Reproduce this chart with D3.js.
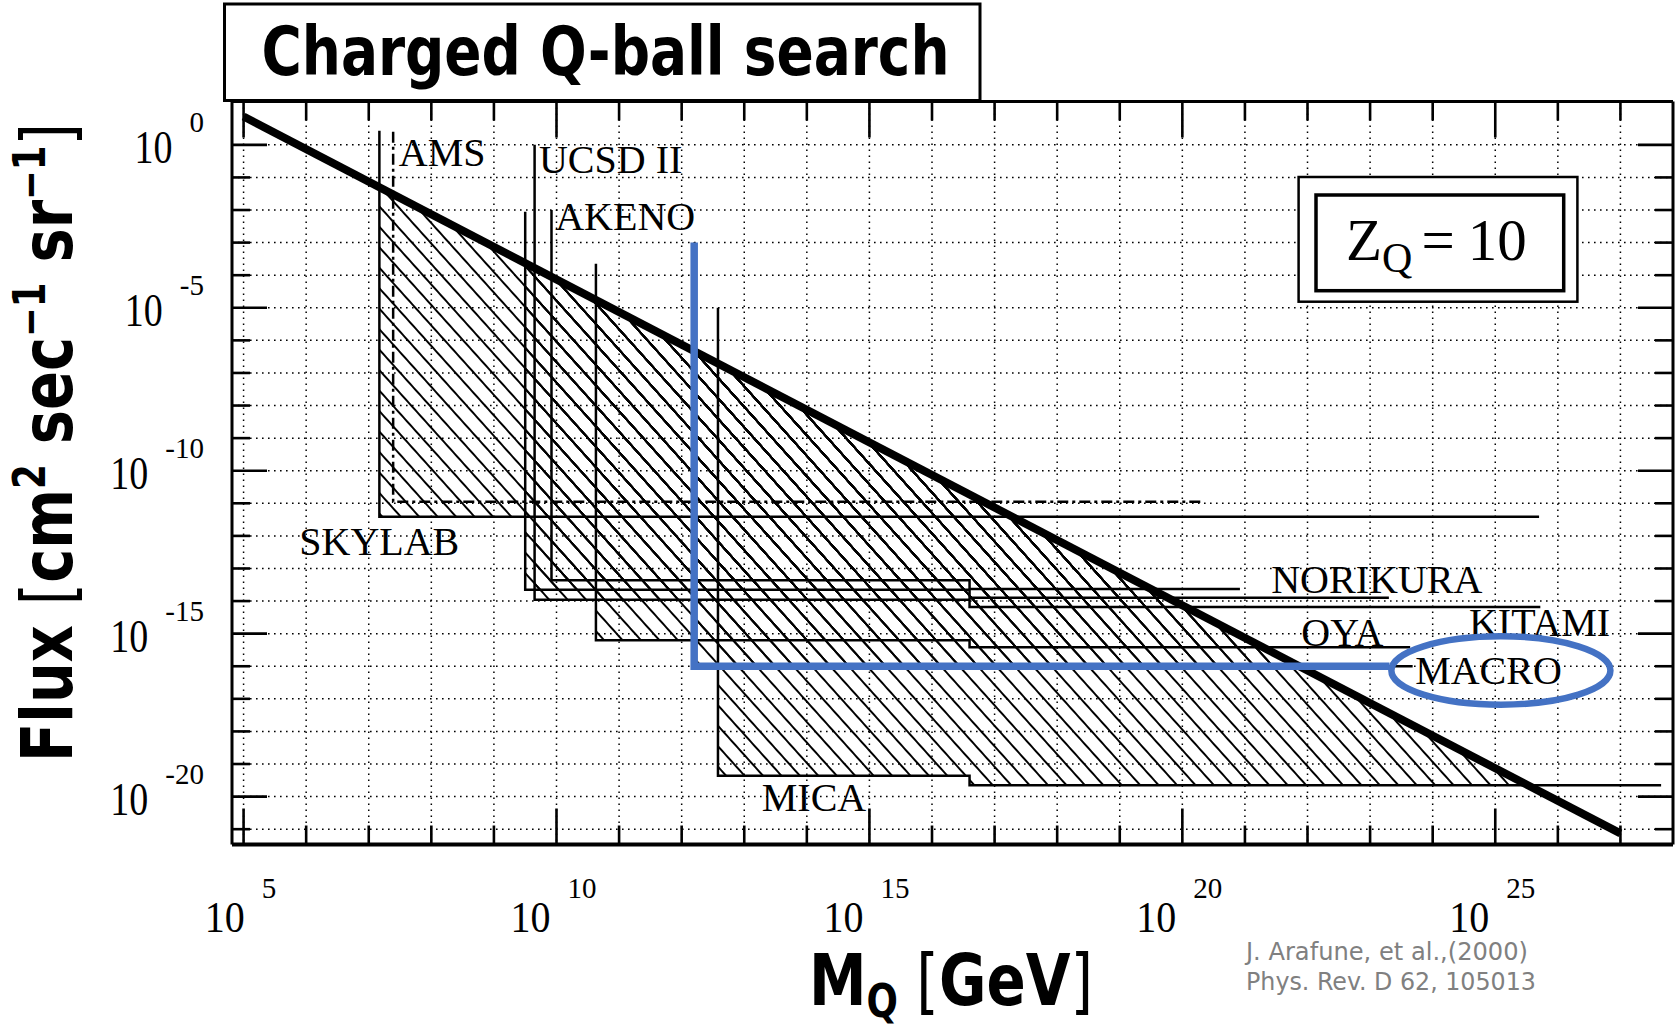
<!DOCTYPE html>
<html>
<head>
<meta charset="utf-8">
<script src="https://cdn.jsdelivr.net/npm/d3@7"></script>
<style>
  html, body { margin: 0; padding: 0; background: #fff; }
  svg { display: block; }
</style>
</head>
<body>
<svg id="chart" width="1676" height="1030"></svg>
<script>
// ---- axis ticks (exponents of ten) ----
const massTickExps  = d3.range(5, 28);          // 10^5 ... 10^27 GeV
const massLabelExps = [5, 10, 15, 20, 25];
const fluxTickExps  = d3.range(0, -22, -1);     // 10^0 ... 10^-21
const fluxLabelExps = [0, -5, -10, -15, -20];

// ---- dark-matter flux bound, log10 M vs log10 F ----
const boundMass = [5, 27];
const boundFlux = [0.87, -21.13];

// ---- experimental limits (log10 values) ----
const expNames    = ["SKYLAB", "AMS", "UCSD II", "AKENO", "NORIKURA", "OYA", "MACRO", "MICA"];
const expMassMin  = [7.17, 7.39, 9.65, 9.92, 9.50, 10.63, 12.20, 12.58];
const expMassMax  = [25.70, 20.32, 25.72, 20.92, 23.30, 23.64, 23.68, 27.65];
const expTopFlux  = [0.43, 0.40, 0.00, -2.00, -2.05, -3.65, -3.00, -5.00];
const expFluxLow  = [-11.41, -10.95, -13.96, -13.36, -13.65, -15.20, -16.00, -19.36]; // light Q-balls
const expFluxHigh = [-11.41, -10.95, -14.18, -13.63, -13.90, -15.42, -16.00, -19.65]; // heavy Q-balls
const stepMass = 16.6;                 // above this mass the ground limits drop
const projectedExps = ["AMS"];         // sensitivity only, not an exclusion

// ---- text labels ----
const labelText = ["AMS", "UCSD II", "AKENO", "SKYLAB", "NORIKURA", "OYA", "KITAMI", "MACRO", "MICA"];
const labelMass = [7.48, 9.72, 9.98, 5.89, 21.42, 21.90, 24.58, 23.72, 13.28];
const labelFlux = [-0.64, -0.87, -2.61, -12.58, -13.75, -15.39, -15.08, -16.56, -20.45];

// ---- highlighted MACRO reach ----
const macroPath = [[12.20, -3.00], [12.20, -16.00], [23.31, -16.00]];
const macroRing = { mass: 25.09, flux: -16.13, massHalf: 1.75, fluxHalf: 1.05 };

// ---------------------------------------------------------------
const P = { left: 232, right: 1673, top: 101.5, bottom: 844.5 };
const xs = d3.scaleLog().domain([10 ** 4.815, 10 ** 27.84]).range([P.left, P.right]);
const ys = d3.scaleLog().domain([10 ** 1.33, 10 ** -21.47]).range([P.top, P.bottom]);
const X = e => xs(10 ** e);
const Y = e => ys(10 ** e);

const serif = "'Liberation Serif', 'Times New Roman', 'DejaVu Serif', serif";
const narrow = "'Liberation Sans Narrow', 'DejaVu Sans Condensed', 'Liberation Sans', Arial, sans-serif";

const svg = d3.select("#chart");
svg.append("rect").attr("width", 1676).attr("height", 1030).attr("fill", "#fff");

const defs = svg.append("defs");
defs.append("clipPath").attr("id", "plotClip")
  .append("rect").attr("x", P.left).attr("y", P.top)
  .attr("width", P.right - P.left).attr("height", P.bottom - P.top);

const hatch = defs.append("pattern").attr("id", "hatch")
  .attr("patternUnits", "userSpaceOnUse")
  .attr("width", 13.7).attr("height", 13.7)
  .attr("patternTransform", "rotate(-42)");
hatch.append("line").attr("x1", 6.85).attr("y1", -1).attr("x2", 6.85).attr("y2", 15)
  .attr("stroke", "#000").attr("stroke-width", 2);

const line = d3.line().x(d => X(d[0])).y(d => Y(d[1]));

// ---- dotted grid ----
const grid = svg.append("g").attr("stroke", "#000").attr("stroke-width", 1.5)
  .attr("stroke-dasharray", "1.6,4.4").attr("fill", "none");
massTickExps.forEach(e => grid.append("line")
  .attr("x1", X(e)).attr("x2", X(e)).attr("y1", P.top).attr("y2", P.bottom));
fluxTickExps.forEach(e => grid.append("line")
  .attr("x1", P.left).attr("x2", P.right).attr("y1", Y(e)).attr("y2", Y(e)));

// ---- hatched exclusion regions ----
const boundAt = m => boundFlux[0] + (m - boundMass[0]) * (boundFlux[1] - boundFlux[0]) / (boundMass[1] - boundMass[0]);
const boundCross = f => boundMass[0] + (f - boundFlux[0]) * (boundMass[1] - boundMass[0]) / (boundFlux[1] - boundFlux[0]);

const exps = expNames.map((name, i) => ({
  name, m0: expMassMin[i], m1: expMassMax[i], top: expTopFlux[i],
  fLow: expFluxLow[i], fHigh: expFluxHigh[i]
}));

const hatchG = svg.append("g").attr("clip-path", "url(#plotClip)");
exps.filter(d => !projectedExps.includes(d.name)).forEach(d => {
  const pts = [[d.m0, d.fLow], [d.m0, boundAt(d.m0)]];
  const c1 = boundCross(d.fLow);
  if (d.fLow === d.fHigh || c1 <= stepMass) {
    pts.push([c1, d.fLow]);
  } else {
    pts.push([boundCross(d.fHigh), d.fHigh], [stepMass, d.fHigh], [stepMass, d.fLow]);
  }
  hatchG.append("path").attr("d", line(pts) + "Z").attr("fill", "url(#hatch)");
});

// ---- limit outlines ----
const limG = svg.append("g").attr("fill", "none").attr("stroke", "#000").attr("stroke-width", 2.5);
exps.forEach(d => {
  let pts;
  if (d.fLow === d.fHigh) {
    pts = [[d.m0, d.top], [d.m0, d.fLow], [d.m1, d.fLow]];
  } else {
    pts = [[d.m0, d.top], [d.m0, d.fLow], [stepMass, d.fLow], [stepMass, d.fHigh], [d.m1, d.fHigh]];
  }
  const p = limG.append("path").attr("d", line(pts));
  if (projectedExps.includes(d.name)) p.attr("stroke-dasharray", "11,4,3,4");
});

// ---- dark-matter bound ----
svg.append("path").attr("d", line(boundMass.map((m, i) => [m, boundFlux[i]])))
  .attr("fill", "none").attr("stroke", "#000").attr("stroke-width", 8);

// ---- frame and ticks ----
const frame = svg.append("g").attr("stroke", "#000").attr("fill", "none");
frame.append("line").attr("x1", P.left).attr("x2", P.right).attr("y1", P.bottom).attr("y2", P.bottom).attr("stroke-width", 4);
frame.append("line").attr("x1", P.left).attr("x2", P.right).attr("y1", P.top).attr("y2", P.top).attr("stroke-width", 3);
frame.append("line").attr("x1", P.left).attr("x2", P.left).attr("y1", P.top).attr("y2", P.bottom).attr("stroke-width", 3);
frame.append("line").attr("x1", P.right).attr("x2", P.right).attr("y1", P.top).attr("y2", P.bottom).attr("stroke-width", 3);
const tk = frame.append("g").attr("stroke-width", 2.6);
massTickExps.forEach(e => {
  const len = e % 5 === 0 ? 36 : 19;
  tk.append("line").attr("x1", X(e)).attr("x2", X(e)).attr("y1", P.bottom).attr("y2", P.bottom - len);
  tk.append("line").attr("x1", X(e)).attr("x2", X(e)).attr("y1", P.top).attr("y2", P.top + len);
});
fluxTickExps.forEach(e => {
  const len = e % 5 === 0 ? 35 : 18;
  tk.append("line").attr("y1", Y(e)).attr("y2", Y(e)).attr("x1", P.left).attr("x2", P.left + len);
  tk.append("line").attr("y1", Y(e)).attr("y2", Y(e)).attr("x1", P.right).attr("x2", P.right - len);
});

// ---- tick labels ----
massLabelExps.forEach(e => {
  const cx = X(e) - 3;
  const base = svg.append("text").text("10").attr("font-family", serif).attr("font-size", 45)
    .attr("textLength", 40).attr("lengthAdjust", "spacingAndGlyphs");
  const sup = svg.append("text").text(String(e)).attr("font-family", serif).attr("font-size", 29);
  const w = sup.node().getComputedTextLength();
  const x0 = cx - (40 + 17 + w) / 2;
  base.attr("x", x0).attr("y", 931.5);
  sup.attr("x", x0 + 57).attr("y", 898);
});
fluxLabelExps.forEach(e => {
  const ty = Y(e);
  const sup = svg.append("text").text(String(e)).attr("font-family", serif).attr("font-size", 29)
    .attr("text-anchor", "end").attr("x", 204).attr("y", ty - 12.5);
  const w = sup.node().getComputedTextLength();
  svg.append("text").text("10").attr("font-family", serif).attr("font-size", 47)
    .attr("textLength", 38).attr("lengthAdjust", "spacingAndGlyphs")
    .attr("x", 204 - w - 17 - 38).attr("y", ty + 18.5);
});

// ---- experiment names ----
labelText.forEach((t, i) => {
  svg.append("text").text(t).attr("font-family", serif).attr("font-size", 40)
    .attr("x", X(labelMass[i])).attr("y", Y(labelFlux[i])).attr("fill", "#000");
});

// ---- charge box ----
svg.append("rect").attr("x", 1298.6).attr("y", 177).attr("width", 278.8).attr("height", 124.7)
  .attr("fill", "#fff").attr("stroke", "#000").attr("stroke-width", 2.5);
svg.append("rect").attr("x", 1316).attr("y", 195).attr("width", 247.7).attr("height", 95.7)
  .attr("fill", "#fff").attr("stroke", "#000").attr("stroke-width", 3.5);
const zq = svg.append("text").attr("font-family", serif).attr("font-size", 59)
  .attr("x", 1346).attr("y", 260);
zq.append("tspan").text("Z");
zq.append("tspan").text("Q").attr("font-size", 42).attr("dy", 12);
zq.append("tspan").text("=").attr("dy", -12).attr("dx", 9);
zq.append("tspan").text("10").attr("dx", 13);

// ---- MACRO highlight ----
const blue = "#4472C4";
svg.append("path").attr("d", line(macroPath)).attr("fill", "none")
  .attr("stroke", blue).attr("stroke-width", 7.5);
svg.append("ellipse")
  .attr("cx", X(macroRing.mass)).attr("cy", Y(macroRing.flux))
  .attr("rx", X(macroRing.mass + macroRing.massHalf) - X(macroRing.mass))
  .attr("ry", Y(macroRing.flux - macroRing.fluxHalf) - Y(macroRing.flux))
  .attr("fill", "none").attr("stroke", blue).attr("stroke-width", 6.5);

// ---- title ----
svg.append("rect").attr("x", 224.5).attr("y", 4).attr("width", 755.5).attr("height", 96.5)
  .attr("fill", "#fff").attr("stroke", "#000").attr("stroke-width", 3);
svg.append("text").text("Charged Q-ball search")
  .attr("font-family", narrow).attr("font-weight", "bold").attr("font-size", 67)
  .attr("x", 261.5).attr("y", 75).attr("textLength", 688).attr("lengthAdjust", "spacingAndGlyphs");

// ---- axis titles (squeezed horizontally to a set width) ----
function fitWidth(sel, width, x, y, rotated) {
  const w = sel.node().getComputedTextLength();
  const sx = width / w;
  sel.attr("transform", `translate(${x},${y})${rotated ? " rotate(-90)" : ""} scale(${sx},1)`);
}

const yt = svg.append("text").attr("font-family", narrow).attr("font-weight", "bold")
  .attr("font-size", 71).attr("x", 0).attr("y", 0);
yt.append("tspan").text("Flux ");
yt.append("tspan").text("[").attr("font-weight", "normal");
yt.append("tspan").text("cm");
yt.append("tspan").text("2").attr("font-size", 44).attr("dy", -27);
yt.append("tspan").text(" sec").attr("dy", 27);
yt.append("tspan").text("\u22121").attr("font-size", 44).attr("dy", -27);
yt.append("tspan").text(" sr").attr("dy", 27);
yt.append("tspan").text("\u22121").attr("font-size", 44).attr("dy", -27);
yt.append("tspan").text("]").attr("font-weight", "normal").attr("dy", 27);
fitWidth(yt, 639, 72, 762, true);

const xt = svg.append("text").attr("font-family", narrow).attr("font-weight", "bold")
  .attr("font-size", 72).attr("x", 0).attr("y", 0);
xt.append("tspan").text("M");
xt.append("tspan").text("Q").attr("font-size", 46).attr("dy", 12);
xt.append("tspan").text(" [").attr("font-weight", "normal").attr("dy", -12);
xt.append("tspan").text("GeV");
xt.append("tspan").text("]").attr("font-weight", "normal");
fitWidth(xt, 284, 809, 1005, false);

// ---- reference ----
svg.append("text").text("J. Arafune, et al.,(2000)").attr("font-family", narrow)
  .attr("font-size", 25).attr("fill", "#808080").attr("x", 1246).attr("y", 960)
  .attr("textLength", 282).attr("lengthAdjust", "spacingAndGlyphs");
svg.append("text").text("Phys. Rev. D 62, 105013").attr("font-family", narrow)
  .attr("font-size", 25).attr("fill", "#808080").attr("x", 1246).attr("y", 990)
  .attr("textLength", 290).attr("lengthAdjust", "spacingAndGlyphs");
</script>
</body>
</html>
